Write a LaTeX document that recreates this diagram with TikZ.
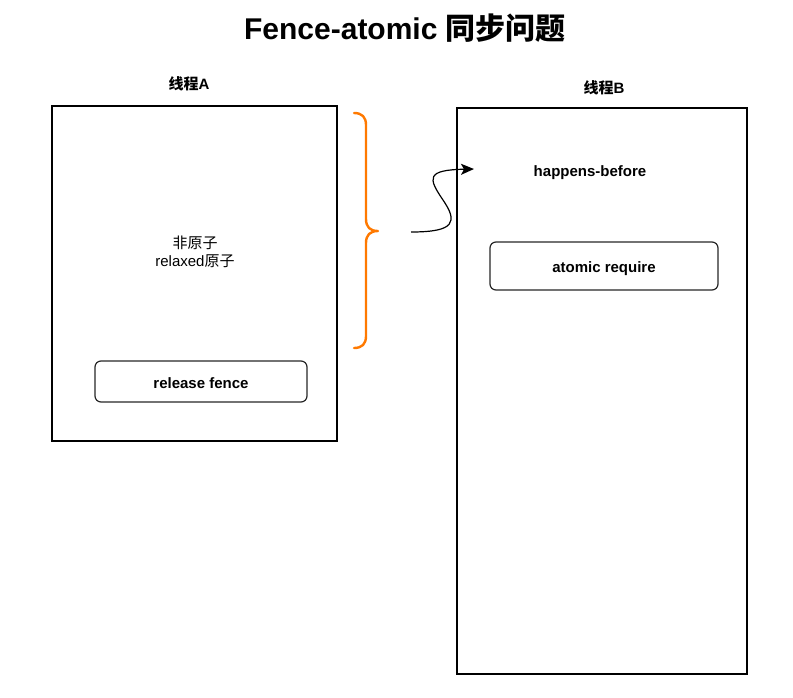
\documentclass[tikz,border=0pt]{standalone}
\usepackage{fontspec}
\setmainfont{Liberation Sans}
\newfontfamily\cjk{Noto Sans CJK SC}
\usetikzlibrary{arrows.meta}
\tikzset{
  lbl/.style={font=\fontsize{15}{18}\selectfont\bfseries, inner sep=0pt},
  thread/.style={draw=black, line width=1.2pt, inner sep=0pt},
  opbox/.style={draw=black!85, line width=1.2pt, rounded corners=6pt, inner sep=0pt},
  brace/.style={draw=orange!95!red, line width=2.4pt, line cap=round, line join=round},
  flow/.style={draw=black, line width=1.2pt, -{Stealth[length=13pt,width=11pt,inset=3pt]}}
}
\begin{document}
\begin{tikzpicture}[x=1pt,y=-1pt]
\useasboundingbox (0,0) rectangle (793,697);
\node (title) at (405,28) {\fontsize{30}{34}\selectfont\bfseries Fence-atomic {\cjk\bfseries 同步问题}};
\node[lbl] (la) at (189,84) {{\cjk\bfseries 线程}A};
\node[lbl] (lb) at (604,88) {{\cjk\bfseries 线程}B};
\node[thread, minimum width=285pt, minimum height=335pt] (ta) at (194.5,273.5) {};
\node[thread, minimum width=290pt, minimum height=566pt] (tb) at (602,391) {};
\node[align=center, font=\fontsize{15}{18}\selectfont, inner sep=0pt] (na) at (195,252) {{\cjk 非原子}\\relaxed{\cjk 原子}};
\node[opbox, minimum width=212pt, minimum height=41pt] (rf) at (201,381.5) {};
\node[lbl] (rft) at ([yshift=-2pt]rf.center) {release fence};
\node[lbl] (hb) at (590,173) {happens-before};
\node[opbox, minimum width=228pt, minimum height=48pt] (ar) at (604,266) {};
\node[lbl] (art) at ([yshift=-3pt]ar.center) {atomic require};
\coordinate (b1) at (354,113);
\coordinate (btip) at (378,231);
\coordinate (b2) at (354,348);
\path[brace] (b1) .. controls (362,113) and (366,117) .. (366,125) -- (366,219)
  .. controls (366,227) and (370,231) .. (btip)
  .. controls (370,231) and (366,235) .. (366,243) -- (366,336)
  .. controls (366,344) and (362,348) .. (b2);
\coordinate (cs) at (411,232);
\coordinate (cm) at (443,200);
\coordinate (ce) at (474,169);
\path[flow] (cs) .. controls (455,232) and (458,222) .. (cm)
  .. controls (428,178) and (426,170) .. (ce);
\end{tikzpicture}
\end{document}
